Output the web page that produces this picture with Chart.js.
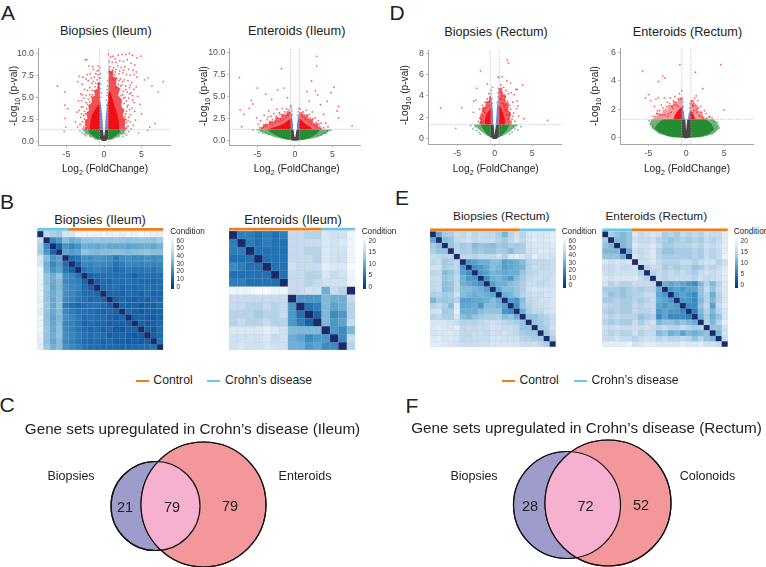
<!DOCTYPE html>
<html>
<head>
<meta charset="utf-8">
<title>Crohn's disease figure</title>
<script src="https://cdn.jsdelivr.net/npm/chart.js@4/dist/chart.umd.js"></script>
<style>
html, body { margin: 0; padding: 0; background: #fff; }
#page { position: relative; width: 766px; height: 567px; overflow: hidden; font-family: "Liberation Sans", Arial, sans-serif; color: #222; }
canvas { position: absolute; }
.txt { position: absolute; white-space: nowrap; transform: translate(-50%, -50%); line-height: 1; }
.txt sub { font-size: 70%; line-height: 0; }
.rot { transform: translate(-50%, -50%) rotate(-90deg); }
.swatch { position: absolute; height: 2.5px; }
</style>
</head>
<body>
<div id="page"></div>
<script>
// Volcano plots: thresholds
const foldLimit = 0.6;
const pLimit = 1.3;
const xTicks = [-5, 0, 5];

// A - Biopsies (Ileum): outlines of the solid and half dense parts of the cloud, then single points
const a1Gray = [[-0.55,1.3],[-0.15,1.3],[-0.03,0.6],[0.03,0.6],[0.15,1.3],[0.55,1.3],[0.55,0.3],[0.3,0.05],[0,-0.02],[-0.3,0.05],[-0.55,0.3]];
const a1GreenHaloL = [[-0.5,1.3],[-2.9,1.3],[-2.5,1],[-2.6,0.8],[-2,0.7],[-2,0.5],[-1.4,0.35],[-1.3,0.2],[-0.5,0.1]];
const a1GreenHaloR = [[0.5,1.3],[3,1.3],[2.6,1],[2.7,0.8],[2.1,0.7],[2.1,0.5],[1.4,0.35],[1.3,0.2],[0.5,0.1]];
const a1GreenL = [[-0.5,1.3],[-2.1,1.3],[-2,0.95],[-1.5,0.6],[-1,0.3],[-0.5,0.14]];
const a1GreenR = [[0.5,1.3],[2.2,1.3],[2.1,0.95],[1.6,0.6],[1,0.3],[0.5,0.14]];
const a1BlueL = [[-0.52,1.3],[-0.12,1.3],[-0.2,2.5],[-0.33,3.6],[-0.45,4.6],[-0.52,5]];
const a1BlueR = [[0.52,1.3],[0.12,1.3],[0.2,2.5],[0.33,3.6],[0.45,4.6],[0.52,5]];
const a1RedHaloL = [[-0.5,1.3],[-2.7,1.3],[-2.4,1.7],[-2.6,2.2],[-2.2,2.6],[-2.4,3.2],[-2,3.5],[-2.1,4.1],[-1.6,4.4],[-1.7,5],[-1.2,5.2],[-1.3,5.8],[-0.8,6],[-0.9,6.6],[-0.55,6.8]];
const a1RedHaloR = [[0.5,1.3],[3,1.3],[2.7,1.8],[2.9,2.4],[2.5,2.9],[2.7,3.5],[2.3,4],[2.4,4.7],[1.9,5.2],[2.1,6],[1.6,6.4],[1.7,7.2],[1.2,7.4],[1.2,8.1],[0.8,8],[0.65,8.6]];
const a1RedL = [[-0.5,1.3],[-1.9,1.3],[-1.8,2.2],[-1.6,3],[-1.2,3.6],[-0.8,4.1],[-0.5,4.2]];
const a1RedR = [[0.5,1.3],[2.1,1.3],[2,2.2],[1.7,3.2],[1.4,4],[1.1,5],[0.8,5.7],[0.55,5.4]];
const a1RedPoints = [[-6.2,6.3],[-5.2,5.6],[-5.2,4.1],[-4.8,3.7],[-5.2,2.6],[-5.1,1.6],[-3.3,7.4],[-3.5,6.8],[-2.5,9.3],[-2.3,9.3],[-2,8.6],[-1.5,8.5],[-1.4,8.2],[-0.8,8.6],[-0.9,8],[-1.8,7.7],[-2.4,7.1],[-2.9,6.5],[-2.1,6.9],[-1.3,7.3],[-0.9,7],[-1.6,6.6],[-2.6,5.9],[-3.1,5.4],[-2.2,5.8],[-1.9,5.3],[-2.7,4.9],[-3.4,4.6],[-2.4,4.4],[-3,3.9],[-3.6,3.3],[-2.6,3.4],[-3.1,2.7],[-2.6,2.5],[-3.2,1.9],[-2.7,1.6],[-2.4,1.5],[-2.9,2.2],[-1.2,6.2],[-0.7,6.6],[-1.6,5.8],[-0.8,7.6],
  [-2.8,1.4],[-2.5,1.8],[-2.7,2.9],[-2.4,2.4],[-2.5,3.1],[-2.3,3.7],[-2.2,4.2],[-2.8,3.9],[-2.1,4.8],[-1.9,4.5],[-1.7,5.1],[-2.4,5.2],[-1.5,5.3],[-1.3,5.7],[-1.9,6.1],[-1.1,6.6],[-1.4,6.8],[-0.8,6.1],[-0.65,7.2],[-1.7,7.2],[-2.2,7.6],[-1.1,7.7],[-0.7,8.1],[-2.8,7.3],[-3,4.6],[-3.3,3.5],[-3,3.1],[-3.8,2.2],[-3.5,1.6],[-2.9,5.3],
  [0.6,9.9],[0.9,9.6],[1.2,9.7],[1.5,9.4],[1.9,9.8],[2.4,9.9],[2.9,9.9],[3.4,10],[3.8,9.8],[4.4,9.5],[4.9,9.7],[0.7,9.1],[1.1,9],[1.6,9],[2.1,9.2],[2.6,9.1],[3.1,9.3],[3.6,8.9],[4.1,8.7],[0.8,8.5],[1.3,8.4],[1.8,8.6],[2.3,8.4],[2.8,8.5],[3.3,8.2],[3.9,8.1],[4.3,7.9],[0.6,7.9],[1,7.8],[1.5,7.9],[2,7.7],[2.5,7.8],[3,7.6],[3.5,7.5],[4,7.6],[4.4,7.3],[1.7,7.2],[2.2,7.1],[2.7,7],[3.2,6.9],[3.7,6.7],[1.2,7],[1.9,6.5],[2.4,6.4],[2.9,6.3],[3.4,6.1],[1.6,6.1],[2.1,5.9],[2.6,5.7],[3.1,5.6],[3.6,5.5],[4,5.9],[2.3,5.2],[2.8,5],[3.3,4.9],[3.8,4.7],[2.7,4.3],[3.2,4.1],[3.7,3.8],[4.1,3.4],[3,3.4],[3.5,3],[2.8,2.8],[3.2,2.3],[2.7,1.9],[3,1.5],[3.6,1.4],[2.6,3.6],[4.8,4.2],[5,3.1],[5.9,7.2],[5.4,7],[6.4,6.3],[7.2,5.6],[7.9,6.8],[6.8,2],[6.1,1.6],
  [3,2.1],[3.3,2.7],[2.9,3.1],[3.1,3.9],[2.6,4.9],[2.5,5.3],[2.9,5.9],[2.2,6.3],[2.5,6.8],[2,6.9],[1.4,7.6],[2.1,8],[1.2,8.1],[1.6,8.2],[2.6,8.1],[3.5,6.4],[3.8,5.2],[4.3,6.2],[4.5,5.1],[3.4,5.4],[4,4.4],[3.5,2.2],[4.2,2.4],[3.9,1.8],[3.2,1.7],[2.9,2.5],[3.4,3.6],[3,4.6]];
const a1BluePoints = [[-0.52,8.4],[-0.5,7.7],[-0.45,7.2],[-0.42,6.5],[-0.48,6],[-0.35,5.5],[-0.4,5],[0.48,6.9],[0.5,6.3],[0.42,5.9],[0.38,5.2],[0.3,4.7],[0.45,5.5],[0.35,4.1]];
const a1GreenPoints = [[-5.3,1.1],[-3.2,1.15],[-2.9,0.9],[-2.6,0.75],[-2.6,1.2],[-2.4,0.6],[2.6,1.1],[2.8,0.9],[3,0.7],[3.3,1.1],[2.5,0.55],[4.6,0.95],[5.8,1.2]];

// A - Enteroids (Ileum)
const a2Gray = [[-0.55,1.3],[-0.2,1.3],[-0.05,0.45],[0.05,0.45],[0.2,1.3],[0.55,1.3],[0.55,0.1],[0.25,0],[-0.25,0],[-0.55,0.1]];
const a2GreenHaloL = [[-0.5,1.3],[-5,1.3],[-4.4,1],[-3.7,0.75],[-2.6,0.4],[-1.5,0.17],[-0.5,0.06]];
const a2GreenHaloR = [[0.5,1.3],[4.8,1.3],[4.3,0.95],[3.5,0.6],[2.5,0.3],[1.5,0.14],[0.5,0.05]];
const a2GreenL = [[-0.5,1.3],[-3.7,1.3],[-3.2,0.95],[-2.5,0.6],[-1.7,0.32],[-1,0.15],[-0.5,0.09]];
const a2GreenR = [[0.5,1.3],[3.4,1.3],[3,0.85],[2.3,0.47],[1.5,0.22],[0.5,0.08]];
const a2BlueL = [[-0.55,1.3],[-0.15,1.3],[-0.25,1.9],[-0.4,2.8],[-0.55,3.3]];
const a2BlueR = [[0.55,1.3],[0.15,1.3],[0.25,1.9],[0.4,2.6],[0.55,3]];
const a2RedHaloL = [[-0.5,1.3],[-4.9,1.3],[-4.2,1.6],[-4.3,1.9],[-3.5,1.9],[-3.4,2.3],[-2.7,2.2],[-2.6,2.7],[-1.9,2.6],[-1.8,3.1],[-1.2,2.9],[-1.1,3.4],[-0.5,3.3]];
const a2RedHaloR = [[0.5,1.3],[3.7,1.3],[3.1,1.6],[3.1,2],[2.5,2],[2.4,2.5],[1.8,2.5],[1.7,3],[1.1,2.9],[1,3.3],[0.5,3.2]];
const a2RedL = [[-0.5,1.3],[-3.5,1.3],[-3,1.5],[-2.2,1.7],[-1.4,2],[-0.8,2.4],[-0.5,2.5]];
const a2RedR = [[0.5,1.3],[2.4,1.3],[2,1.6],[1.3,2],[0.8,2.4],[0.5,2.5]];
const a2RedPoints = [[-7.4,7.2],[-7.3,3.5],[-7.1,1.6],[-6.8,3],[-6.1,3.7],[-5.8,4.6],[-5.6,4.2],[-5,6],[-5.1,2.6],[-3.9,5.3],[-3.5,3.4],[-3.1,4.7],[-2.3,5.8],[-1.8,8.2],[-1.5,6],[-1,4.9],[-0.6,3.9],[2.9,9.6],[2.9,8.5],[2.2,6.8],[2.7,5.7],[3,5.2],[1.6,5.6],[1.9,4.5],[4.8,5.5],[5.2,6.1],[5.8,3.9],[5.8,2.6],[5.6,3.4],[7.6,1.7],[4.3,4.5],[3.8,3],[3.4,4.1],
  [-4.9,1.9],[-4.6,2.3],[-4.4,1.5],[-4.1,2.9],[-3.9,1.7],[-3.7,2.4],[-3.4,2.1],[-3.2,2.8],[-3,1.9],[-2.8,3.1],[-2.6,2.3],[-2.4,3.6],[-2.3,2.6],[-2.1,3.2],[-1.9,2.5],[-1.7,3.7],[-1.6,2.9],[-1.4,3.3],[-1.2,2.7],[-1.1,3.6],[-0.9,3],[-0.7,3.2],[0.7,3.6],[0.9,2.9],[1.1,3.3],[1.3,2.6],[1.5,3.5],[1.7,2.4],[1.9,3],[2.1,2.2],[2.3,3.3],[2.5,1.9],[2.7,2.6],[2.9,1.7],[3.1,2.3],[3.3,1.6],[3.5,2],[3.8,1.5],[4.1,2],[4.4,1.6],
  [-4.7,1.5],[-4.2,1.6],[-3.8,1.9],[-3.6,2.7],[-3.3,1.9],[-3,2.4],[-2.7,2.1],[-2.5,2.8],[-2.2,2.2],[-2,3],[-1.8,2.3],[-1.5,2.5],[-1.3,3],[-1,2.9],[-0.8,3.5],[1,2.7],[1.2,3],[1.4,2.4],[1.6,2.9],[1.8,2.1],[2,2.6],[2.2,1.9],[2.4,2.5],[2.6,1.7],[2.8,2.1],[3,1.5],[3.2,1.9],[3.4,1.4]];
const a2BluePoints = [[-0.52,4],[-0.48,3.7],[-0.42,3.4],[-0.35,3],[0.5,3.7],[0.45,3.3],[0.38,2.9]];
const a2GreenPoints = [[-5,1.2],[-4.8,0.95],[-4.5,1.1],[-4.3,0.9],[-3.9,0.85],[-3.5,0.75],[-5.6,1.25],[4.3,1.1],[4.1,0.85],[3.8,0.9],[3.5,0.65],[4.8,1.2],[3.1,0.55]];

// D - Biopsies (Rectum)
const d1Gray = [[-0.55,1.3],[-0.15,1.3],[-0.03,0.3],[0.03,0.3],[0.15,1.3],[0.55,1.3],[0.55,0.15],[0.25,-0.05],[-0.25,-0.05],[-0.55,0.15]];
const d1GreenHaloL = [[-0.5,1.3],[-2.8,1.3],[-2.3,0.95],[-1.7,0.6],[-1.1,0.3],[-0.5,0.1]];
const d1GreenHaloR = [[0.5,1.3],[3,1.3],[2.5,0.95],[1.9,0.6],[1.2,0.3],[0.5,0.1]];
const d1GreenL = [[-0.5,1.3],[-1.9,1.3],[-1.5,0.8],[-1.1,0.42],[-0.8,0.22],[-0.5,0.12]];
const d1GreenR = [[0.5,1.3],[2,1.3],[1.6,0.8],[1.1,0.42],[0.8,0.22],[0.5,0.12]];
const d1BlueL = [[-0.5,1.3],[-0.12,1.3],[-0.2,2],[-0.3,3],[-0.5,4]];
const d1BlueR = [[0.5,1.3],[0.12,1.3],[0.2,2],[0.3,3],[0.5,4]];
const d1RedHaloL = [[-0.5,1.3],[-2.1,1.3],[-1.9,1.7],[-2,2.1],[-1.6,2.4],[-1.7,2.9],[-1.2,3],[-1.2,3.5],[-0.8,3.5],[-0.7,4],[-0.5,4]];
const d1RedHaloR = [[0.5,1.3],[2.3,1.3],[2,1.8],[2.2,2.3],[1.8,2.7],[1.9,3.3],[1.4,3.5],[1.5,4.1],[1,4.2],[1,4.8],[0.5,4.7]];
const d1RedL = [[-0.5,1.3],[-1.2,1.3],[-1.3,1.8],[-1.1,2.3],[-0.7,2.7],[-0.5,2.9]];
const d1RedR = [[0.5,1.3],[1.3,1.3],[1.35,1.8],[1.1,2.4],[0.8,2.9],[0.5,3.1]];
const d1RedPoints = [[-7.2,2.85],[-4.4,2.9],[-2.4,4.7],[-1.9,6.35],[-1,5.1],[1.65,7.35],[1.8,7.1],[1,5.8],[3.7,5],[3.9,1.85],[7.05,1.7],[3,4.6],[2.8,4.6],[2.1,5.2],[1.6,5.4],[0.8,5],[0.6,5.7],[3,3.5],[3.1,3.05],[2.1,2.75],[-2.5,3.6],[-2.8,3.5],[-2.85,2.45],[-2,2.75],
  [-2.2,1.6],[-2,1.9],[-1.8,2.3],[-1.7,1.5],[-1.6,3.1],[-1.5,2.6],[-1.3,3.4],[-1.2,2.9],[-1,3.7],[-0.8,4.2],[-0.7,3.5],[0.7,4.4],[0.9,3.7],[1,4.3],[1.1,3.3],[1.2,4.8],[1.3,3],[1.4,3.9],[1.5,4.5],[1.6,2.6],[1.7,3.5],[1.8,4.2],[1.9,2.2],[2,3.1],[2.2,4.3],[2.3,1.8],[2.4,3.4],[2.5,2.4],[2.6,4.1],[2.7,1.6],[2.9,2.8],[3.2,2.1],
  [-1.9,1.5],[-1.8,1.8],[-1.6,2.1],[-1.5,1.6],[-1.4,2.8],[-1.3,2.4],[-1.1,3.1],[-0.9,3.4],[-0.7,3.1],[-0.6,3.8],[0.7,3.7],[0.9,3.3],[1,4],[1.2,3.1],[1.3,3.6],[1.4,2.7],[1.5,3.2],[1.6,2.2],[1.7,2.9],[1.8,1.8],[2,2.4],[2.2,1.6],[2.4,2.1]];
const d1BluePoints = [[-0.5,4.5],[-0.45,4.2],[-0.4,3.7],[-0.35,3.3],[-0.3,4.8],[0.42,5.8],[0.5,4.7],[0.4,4.3],[0.45,3.9],[0.35,3.4]];
const d1GreenPoints = [[-5.2,0.95],[-3.2,1.2],[-2.9,0.9],[-2.6,1.1],[-2.4,0.75],[-2.1,0.55],[-1.9,0.4],[2.5,1.1],[2.7,0.9],[2.9,1.2],[3.1,0.8],[2.3,0.6],[2,0.4],[3.5,1.1]];

// D - Enteroids (Rectum)
const d2Gray = [[-0.6,1.3],[-0.12,1.3],[-0.03,0.5],[0.03,0.5],[0.12,1.3],[0.6,1.3],[0.6,0.05],[0.2,-0.03],[-0.2,-0.03],[-0.6,0.05]];
const d2GreenHaloL = [[-0.5,1.3],[-4.6,1.3],[-4.8,1],[-4.5,0.65],[-3.6,0.28],[-2,0.05],[-0.5,0.02]];
const d2GreenHaloR = [[0.5,1.3],[3.6,1.3],[4.1,1],[4.3,0.65],[3.5,0.25],[2,0.05],[0.5,0.02]];
const d2GreenL = [[-0.5,1.3],[-3,1.3],[-3.8,1],[-4.2,0.65],[-3.5,0.35],[-2.5,0.15],[-1.5,0.05],[-0.5,0.02]];
const d2GreenR = [[0.5,1.3],[2.5,1.3],[3.3,1],[3.7,0.6],[3,0.27],[2,0.1],[1,0.03],[0.5,0.02]];
const d2BlueL = [[-0.55,1.3],[-0.2,1.3],[-0.32,1.8],[-0.55,2.4]];
const d2BlueR = [[0.55,1.3],[0.2,1.3],[0.32,1.7],[0.55,2.1]];
const d2RedHaloL = [[-0.5,1.3],[-4.5,1.3],[-3.9,1.5],[-3.9,1.8],[-3.2,1.7],[-3.1,2],[-2.5,1.9],[-2.4,2.3],[-1.8,2.3],[-1.7,2.6],[-1.2,2.5],[-1.1,2.8],[-0.5,2.9]];
const d2RedHaloR = [[0.5,1.3],[2.8,1.3],[2.2,1.5],[2.1,1.8],[1.6,1.9],[1.5,2.3],[1.1,2.3],[1,2.7],[0.5,2.6]];
const d2RedL = [[-0.5,1.3],[-1.7,1.3],[-1.5,1.6],[-1.2,1.85],[-0.8,2.1],[-0.5,2.2]];
const d2RedR = [[0.5,1.3],[1.2,1.3],[1,1.55],[0.8,1.8],[0.5,1.9]];
const d2RedPoints = [[-5.75,4.68],[-3.1,4.35],[-2.85,4.2],[-3.65,3.95],[-0.85,5.13],[1.2,4.6],[4.55,5.13],[2.17,3.45],[5,1.96],[-4.96,3.03],[-5.4,2.8],[-4,2.7],
  [-4.7,2.6],[-4.4,1.5],[-4.2,2.2],[-3.9,1.7],[-3.7,2.8],[-3.5,1.9],[-3.3,2.3],[-3.1,1.6],[-2.9,2.8],[-2.7,2],[-2.5,2.5],[-2.3,1.7],[-2.1,2.8],[-1.9,2.2],[-1.7,2.6],[-1.5,2.9],[-1.3,2.3],[-1.1,2.7],[-0.9,3.1],[-0.7,2.7],[-0.6,3.3],[0.7,2.6],[0.9,2.2],[1.1,2.8],[1.3,2],[1.5,2.6],[1.7,1.6],[1.9,2.2],[2.1,1.5],[2.4,1.9],[2.7,1.4],[3,1.45],[1.3,2.95],[1,2.4],
  [-4.1,1.5],[-3.8,1.9],[-3.4,1.6],[-3.1,2.1],[-2.8,1.6],[-2.6,2.2],[-2.4,1.5],[-2.2,2.4],[-2,1.8],[-1.8,2.1],[-1.6,2.3],[-1.4,2.5],[-1.1,2.2],[0.8,2.3],[1,1.9],[1.2,2.3],[1.4,1.8],[1.6,2.1],[1.8,1.5],[2,1.8],[2.2,1.4],[2.6,1.7],[3.1,1.5],[3.4,1.4]];
const d2BluePoints = [[-0.5,2.75],[-0.45,2.5],[-0.4,2.2],[0.48,2.4],[0.42,2.1]];
const d2GreenPoints = [[-4.9,1.2],[-4.75,0.95],[-4.4,0.8],[-3.7,0.7],[-3.2,0.45],[4.05,1.1],[3.7,1.15],[4.2,0.85],[4.35,0.7],[3.8,0.45]];

// Sample distance matrices, upper triangles read row by row
const b1Upper = [
  [0,44,40,38,50,50,59,57,57,56,57,55,56,54,57,56,58,56,54,54],
  [0,20,24,34,30,32,36,36,37,36,36,37,36,35,36,37,36,35,38],
  [0,12,23,20,23,30,29,28,30,28,28,29,27,28,29,30,28,31],
  [0,27,25,27,36,34,33,34,34,35,34,33,34,35,36,34,34],
  [0,14,16,22,21,23,22,21,17,21,22,20,21,22,21,22],
  [0,12,20,19,21,20,19,15,18,20,19,19,20,19,20],
  [0,16,18,19,17,16,13,15,17,16,16,17,16,18],
  [0,12,14,14,15,14,15,14,12,14,15,14,15],
  [0,11,14,13,15,14,15,14,13,14,13,14],
  [0,13,14,15,13,14,13,14,15,14,14],
  [0,12,13,12,14,13,12,14,12,13],
  [0,11,13,12,11,13,11,13,13],
  [0,12,11,12,10,12,11,13],
  [0,13,11,10,12,11,12],
  [0,11,12,11,10,12],
  [0,12,10,11,13],
  [0,11,10,14],
  [0,11,14],
  [0,15],
  [0]
];
const b2Matrix = [
  [0,6,6,5,6,5,6,15,15,14,14,17,16,16,19],
  [6,0,6,5,6,5,5,15,15,15,15,17,16,17,19],
  [6,6,0,5,5,5,5,15,15,14,14,17,16,16,19],
  [5,5,5,0,5,5,5,15,15,15,14,17,16,16,19],
  [7,6,5,5,0,5,5,16,15,15,15,18,17,17,20],
  [5,5,5,5,5,0,5,15,15,14,14,17,15,16,19],
  [6,6,5,5,5,5,0,15,15,14,15,16,16,16,19],
  [19,19,19,20,20,19,19,15,15,16,16,10,15,14,0],
  [15,15,15,15,15,15,15,0,8,8,8,11,10,10,15],
  [15,15,14,14,15,14,15,8,0,5,6,11,9,10,14],
  [14,14,14,13,14,14,15,8,5,0,4,11,7,8,14],
  [14,15,14,14,15,14,14,8,6,4,0,11,8,9,15],
  [17,17,17,17,18,17,16,11,11,11,11,0,8,7,11],
  [16,16,16,16,17,15,16,10,9,7,8,8,0,7,15],
  [16,17,16,16,17,16,16,10,10,8,9,7,7,0,14]
];
const e1Upper = [
  [0,28,38,40,46,44,48,43,46,44,44,40,32,42,48,42,50,52,50,52,54],
  [0,34,36,44,46,48,44,46,45,46,42,38,44,50,44,50,53,50,53,54],
  [0,36,42,38,40,34,36,35,34,38,36,40,38,40,50,51,50,50,52],
  [0,43,40,41,36,38,36,36,40,38,34,40,40,48,50,52,52,50],
  [0,44,44,42,44,44,44,48,42,52,54,50,46,54,50,50,48],
  [0,24,26,30,30,34,34,26,28,30,34,42,44,44,44,46],
  [0,22,24,28,34,32,26,28,30,32,42,46,44,44,46],
  [0,24,26,32,30,28,30,30,36,42,44,46,46,46],
  [0,22,30,32,28,24,34,38,44,46,46,46,48],
  [0,26,30,30,34,36,40,46,46,44,46,48],
  [0,28,34,34,36,40,48,50,48,50,50],
  [0,30,32,36,42,46,48,46,50,50],
  [0,26,24,34,44,46,48,48,50],
  [0,22,36,42,46,46,48,50],
  [0,30,40,44,44,48,50],
  [0,36,36,40,42,46],
  [0,36,38,42,46],
  [0,38,40,48],
  [0,38,44],
  [0,40],
  [0]
];
const e2Upper = [
  [0,13,12,11,12,17,15,16,17,16,13,14,13,15,14,15,14,16,15,15,18],
  [0,11,11,12,16,15,15,16,14,13,12,13,14,13,14,13,15,14,15,18],
  [0,11,12,17,16,16,17,15,13,13,14,14,14,15,14,16,15,16,18],
  [0,10,16,15,16,17,14,12,12,13,13,13,14,13,15,14,15,18],
  [0,17,15,16,17,14,13,13,13,13,13,14,13,15,14,15,19],
  [0,16,16,17,15,14,14,14,15,15,14,15,16,16,14,16],
  [0,14,15,15,13,14,13,14,14,12,13,15,14,15,17],
  [0,14,15,14,15,14,15,14,13,15,16,15,16,18],
  [0,15,14,15,15,15,15,14,16,15,15,16,18],
  [0,10,9,10,9,8,7,11,14,11,14,17],
  [0,8,9,8,9,9,12,15,12,15,17],
  [0,8,9,8,7,12,14,10,14,17],
  [0,8,8,7,11,14,11,14,17],
  [0,7,7,12,15,9,15,18],
  [0,6,11,14,11,14,17],
  [0,10,13,10,12,17],
  [0,14,11,14,18],
  [0,12,12,16],
  [0,11,16],
  [0,15],
  [0]
];

// Condition strip on top of each heatmap: [group, number of samples]
const b1Groups = [['crohn',5],['control',15]];
const b2Groups = [['control',11],['crohn',4]];
const e1Groups = [['control',15],['crohn',6]];
const e2Groups = [['crohn',5],['control',16]];
const groupColors = { control: '#ee7d1c', crohn: '#6cc6ec' };

// Colour bar ticks
const ticks60 = [0, 10, 20, 30, 40, 50, 60];
const ticks20 = [0, 5, 10, 15, 20];

// Venn diagrams: circle centre and radius in canvas pixels, counts
const ileumBiopsies = { x: 75.5, y: 106, r: 44.5 };
const ileumEnteroids = { x: 123.5, y: 104.5, r: 62.5 };
const rectumBiopsies = { x: 87, y: 105, r: 53.5 };
const rectumColonoids = { x: 128, y: 103, r: 63 };
const vennIleumCounts = ['21', '79', '79'];
const vennRectumCounts = ['28', '72', '52'];

const blues = [[27,42,107],[8,81,156],[33,113,181],[66,146,198],[107,174,214],[158,202,225],[198,219,239],[222,235,247],[247,251,255]];

function heatRgb(value, max) {
    const t = Math.min(value / max, 1) * (blues.length - 1);
    const i = Math.min(Math.floor(t), blues.length - 2);
    const f = t - i;
    return blues[i].map((v, k) => Math.round(v + (blues[i + 1][k] - v) * f));
}

function heatColor(value, max) {
    return 'rgb(' + heatRgb(value, max).join(',') + ')';
}

// Cell edge: the cell colour pulled towards light grey
function heatEdge(value, max) {
    const c = heatRgb(value, max).map(v => Math.round(v * 0.62 + 190 * 0.38));
    return 'rgb(' + c.join(',') + ')';
}

// Fill in the lower half of a symmetric matrix
function fullMatrix(upper) {
    return upper.map((row, r) => upper.map((_, c) => r <= c ? upper[r][c - r] : upper[c][r - c]));
}

const page = document.getElementById('page');

function addCanvas(left, top, width, height) {
    const canvas = document.createElement('canvas');
    canvas.width = width;
    canvas.height = height;
    canvas.style.left = left + 'px';
    canvas.style.top = top + 'px';
    canvas.style.width = width + 'px';
    canvas.style.height = height + 'px';
    page.appendChild(canvas);
    return canvas;
}

function addText(html, x, y, size, extraClass, color) {
    const span = document.createElement('span');
    span.className = 'txt' + (extraClass ? ' ' + extraClass : '');
    span.innerHTML = html;
    span.style.left = x + 'px';
    span.style.top = y + 'px';
    span.style.fontSize = size + 'px';
    if (color) span.style.color = color;
    page.appendChild(span);
}

function addSwatch(x, y, width, color) {
    const div = document.createElement('div');
    div.className = 'swatch';
    div.style.left = x + 'px';
    div.style.top = y + 'px';
    div.style.width = width + 'px';
    div.style.background = color;
    page.appendChild(div);
}

function shapeSet(data, color) {
    return { data: data, showLine: true, fill: 'shape', borderWidth: 0, pointRadius: 0, pointBorderWidth: 0, backgroundColor: color, borderColor: color };
}

function pointSet(data, color) {
    return { data: data, showLine: false, pointRadius: 0.9, pointBorderWidth: 0, pointBackgroundColor: color };
}

function lineSet(data) {
    return { data: data, showLine: true, borderColor: '#a8a8a8', borderWidth: 0.6, borderDash: [1.5, 1.2], pointRadius: 0, pointBorderWidth: 0, fill: false };
}

// One volcano plot; box is the plot area in page pixels
function volcano(box, xRange, yRange, yTicks, yDecimals, s) {
    const canvasLeft = Math.floor(box.left) - 30;
    const canvasTop = Math.floor(box.top) - 1;
    const canvasRight = Math.ceil(box.right) + 2;
    const canvasBottom = Math.ceil(box.bottom) + 20;
    const axisW = box.left - canvasLeft;
    const axisH = canvasBottom - box.bottom;
    const canvas = addCanvas(canvasLeft, canvasTop, canvasRight - canvasLeft, canvasBottom - canvasTop);
    const green = 'rgba(34,139,50,', red = 'rgba(240,12,18,', blue = 'rgba(105,128,205,';
    const datasets = [
        shapeSet(s.greenHalo[0], green + '0.65)'), shapeSet(s.greenHalo[1], green + '0.65)'),
        shapeSet(s.green[0], green + '0.95)'), shapeSet(s.green[1], green + '0.95)'),
        pointSet(s.greenPoints, green + '0.6)'),
        shapeSet(s.redHalo[0], red + s.haloAlpha + ')'), shapeSet(s.redHalo[1], red + s.haloAlpha + ')'),
        shapeSet(s.red[0], red + '0.95)'), shapeSet(s.red[1], red + '0.95)'),
        pointSet(s.redPoints, red + '0.62)'),
        shapeSet(s.blue[0], blue + '0.92)'), shapeSet(s.blue[1], blue + '0.92)'),
        pointSet(s.bluePoints, blue + '0.75)'),
        shapeSet(s.gray, '#4a4747'),
        lineSet([[-foldLimit, yRange[0]], [-foldLimit, yRange[1]]]),
        lineSet([[foldLimit, yRange[0]], [foldLimit, yRange[1]]]),
        lineSet([[xRange[0], pLimit], [xRange[1], pLimit]])
    ];
    // first dataset is drawn on top in Chart.js, so reverse them
    datasets.reverse();
    new Chart(canvas, {
        type: 'scatter',
        data: { datasets: datasets },
        options: {
            responsive: false,
            animation: false,
            events: [],
            layout: { padding: { left: 0, right: canvasRight - box.right, top: box.top - canvasTop, bottom: 0 } },
            plugins: { legend: { display: false }, tooltip: { enabled: false } },
            scales: {
                x: {
                    type: 'linear', min: xRange[0], max: xRange[1],
                    afterBuildTicks: scale => { scale.ticks = xTicks.map(v => ({ value: v })); },
                    afterFit: scale => { scale.height = axisH; scale.paddingLeft = 0; scale.paddingRight = 0; },
                    grid: { drawOnChartArea: false, tickLength: 2, color: '#888', tickWidth: 0.6 },
                    border: { color: '#a6a6a6', width: 1 },
                    ticks: { color: '#4d4d4d', font: { size: 8.8, family: 'Liberation Sans' }, padding: 2, maxRotation: 0, autoSkip: false }
                },
                y: {
                    type: 'linear', min: yRange[0], max: yRange[1],
                    afterBuildTicks: scale => { scale.ticks = yTicks.map(v => ({ value: v })); },
                    afterFit: scale => { scale.width = axisW; scale.paddingTop = 0; scale.paddingBottom = 0; },
                    grid: { drawOnChartArea: false, tickLength: 2, color: '#888', tickWidth: 0.6 },
                    border: { color: '#a6a6a6', width: 1 },
                    ticks: { color: '#4d4d4d', font: { size: 8.8, family: 'Liberation Sans' }, padding: 2, autoSkip: false,
                        callback: v => v.toFixed(yDecimals) }
                }
            }
        }
    });
}

// One heatmap as floating bars, a row per dataset
function heatmap(box, matrix, groups, max) {
    const cellH = (box.bottom - box.top) / matrix.length;
    const stripTop = -3.3 / cellH;
    const canvasLeft = Math.floor(box.left);
    const canvasTop = Math.floor(box.top - 3.3);
    const canvasRight = Math.ceil(box.right);
    const canvasBottom = Math.ceil(box.bottom);
    const canvas = addCanvas(canvasLeft, canvasTop, canvasRight - canvasLeft, canvasBottom - canvasTop);
    const labels = matrix[0].map((_, c) => c);
    const strip = [];
    groups.forEach(g => { for (let i = 0; i < g[1]; i++) strip.push(groupColors[g[0]]); });
    const datasets = matrix.map((row, r) => ({
        data: row.map(() => [r, r + 1]),
        backgroundColor: row.map(v => heatColor(v, max)),
        borderColor: row.map(v => heatEdge(v, max)),
        borderWidth: 0.5
    }));
    datasets.push({ data: labels.map(() => [stripTop, stripTop + 2.4 / cellH]), backgroundColor: strip, borderWidth: 0 });
    new Chart(canvas, {
        type: 'bar',
        data: { labels: labels, datasets: datasets },
        options: {
            responsive: false,
            animation: false,
            events: [],
            grouped: false,
            barPercentage: 1,
            categoryPercentage: 1,
            borderSkipped: false,
            layout: { padding: { left: box.left - canvasLeft, right: canvasRight - box.right, top: box.top - 3.3 - canvasTop, bottom: canvasBottom - box.bottom } },
            plugins: { legend: { display: false }, tooltip: { enabled: false } },
            scales: {
                x: { type: 'category', display: false, offset: true },
                y: { type: 'linear', display: false, reverse: true, min: stripTop, max: matrix.length }
            }
        }
    });
}

// Colour bar: one tall bar with a gradient, ticks from the y axis
function colorbar(left, top, height, yRange, ticks) {
    const barW = 3;
    const canvas = addCanvas(left, top, 22, height);
    new Chart(canvas, {
        type: 'bar',
        data: {
            labels: ['level'],
            datasets: [{
                data: [yRange],
                barPercentage: 1,
                categoryPercentage: 1,
                borderWidth: 0,
                backgroundColor: ctx => {
                    const area = ctx.chart.chartArea;
                    if (!area) return '#08519c';
                    const grad = ctx.chart.ctx.createLinearGradient(0, area.bottom, 0, area.top);
                    blues.forEach((c, i) => grad.addColorStop(i / (blues.length - 1), 'rgb(' + c.join(',') + ')'));
                    return grad;
                }
            }]
        },
        options: {
            responsive: false,
            animation: false,
            events: [],
            layout: { padding: 0 },
            plugins: { legend: { display: false }, tooltip: { enabled: false } },
            scales: {
                x: { display: false, afterFit: scale => { scale.paddingLeft = 0; scale.paddingRight = 0; } },
                y: {
                    position: 'right', min: yRange[0], max: yRange[1],
                    afterBuildTicks: scale => { scale.ticks = ticks.map(v => ({ value: v })); },
                    afterFit: scale => { scale.width = 22 - barW; scale.paddingTop = 0; scale.paddingBottom = 0; },
                    grid: { display: false, drawTicks: false },
                    border: { display: false },
                    ticks: { color: '#333', font: { size: 6.6, family: 'Liberation Sans' }, padding: 2.5, autoSkip: false }
                }
            }
        }
    });
}

// Keeps the overlap dataset inside the other circle
const vennClip = {
    id: 'vennClip',
    beforeDatasetDraw(chart, args) {
        if (!chart.data.datasets[args.index].clipToSecond) return;
        const el = chart.getDatasetMeta(1).data[0];
        chart.ctx.save();
        chart.ctx.beginPath();
        chart.ctx.arc(el.x, el.y, el.options.radius, 0, Math.PI * 2);
        chart.ctx.clip();
    },
    afterDatasetDraw(chart, args) {
        if (chart.data.datasets[args.index].clipToSecond) chart.ctx.restore();
    }
};
Chart.register(vennClip);

function venn(left, top, a, b) {
    const canvas = addCanvas(left, top, 200, 200);
    const edge = { borderColor: '#141414', borderWidth: 1.2 };
    const chart = new Chart(canvas, {
        type: 'bubble',
        data: {
            datasets: [
                Object.assign({ data: [a], backgroundColor: '#9d9ccb', order: 5 }, edge),
                Object.assign({ data: [b], backgroundColor: '#f4979b', order: 4 }, edge),
                { data: [a], backgroundColor: '#f6b1d0', borderWidth: 0, order: 3, clipToSecond: true },
                Object.assign({ data: [a], backgroundColor: 'transparent', order: 2 }, edge),
                Object.assign({ data: [b], backgroundColor: 'transparent', order: 1 }, edge)
            ]
        },
        options: {
            responsive: false,
            animation: false,
            events: [],
            clip: false,
            layout: { padding: 0 },
            plugins: { legend: { display: false }, tooltip: { enabled: false } },
            scales: {
                x: { type: 'linear', display: false },
                y: { type: 'linear', display: false, reverse: true }
            }
        }
    });
    // bubble charts inset the plot by the largest radius, so line the scales up with the canvas
    const area = chart.chartArea;
    chart.options.scales.x.min = area.left;
    chart.options.scales.x.max = area.right;
    chart.options.scales.y.min = area.top;
    chart.options.scales.y.max = area.bottom;
    chart.update();
}

// Volcano plots
volcano({ left: 38, top: 45, right: 172, bottom: 145.5 }, [-8.8, 8.8], [-0.5, 10.63], [0, 2.5, 5, 7.5, 10], 1, {
    haloAlpha: 0.72, gray: a1Gray, greenHalo: [a1GreenHaloL, a1GreenHaloR], green: [a1GreenL, a1GreenR], blue: [a1BlueL, a1BlueR],
    redHalo: [a1RedHaloL, a1RedHaloR], red: [a1RedL, a1RedR], redPoints: a1RedPoints, bluePoints: a1BluePoints, greenPoints: a1GreenPoints });
volcano({ left: 229.3, top: 45, right: 362, bottom: 145.5 }, [-8.74, 8.65], [-0.53, 10.55], [0, 2.5, 5, 7.5, 10], 1, {
    haloAlpha: 0.6, gray: a2Gray, greenHalo: [a2GreenHaloL, a2GreenHaloR], green: [a2GreenL, a2GreenR], blue: [a2BlueL, a2BlueR],
    redHalo: [a2RedHaloL, a2RedHaloR], red: [a2RedL, a2RedR], redPoints: a2RedPoints, bluePoints: a2BluePoints, greenPoints: a2GreenPoints });
volcano({ left: 428, top: 47.7, right: 562.7, bottom: 144 }, [-8.9, 8.83], [-0.52, 8.3], [0, 2, 4, 6, 8], 0, {
    haloAlpha: 0.65, gray: d1Gray, greenHalo: [d1GreenHaloL, d1GreenHaloR], green: [d1GreenL, d1GreenR], blue: [d1BlueL, d1BlueR],
    redHalo: [d1RedHaloL, d1RedHaloR], red: [d1RedL, d1RedR], redPoints: d1RedPoints, bluePoints: d1BluePoints, greenPoints: d1GreenPoints });
volcano({ left: 620, top: 45.7, right: 755, bottom: 144 }, [-8.74, 8.79], [-0.43, 6.3], [0, 2, 4, 6], 0, {
    haloAlpha: 0.42, gray: d2Gray, greenHalo: [d2GreenHaloL, d2GreenHaloR], green: [d2GreenL, d2GreenR], blue: [d2BlueL, d2BlueR],
    redHalo: [d2RedHaloL, d2RedHaloR], red: [d2RedL, d2RedR], redPoints: d2RedPoints, bluePoints: d2BluePoints, greenPoints: d2GreenPoints });

// Heatmaps and colour bars
heatmap({ left: 37.3, top: 231.3, right: 163.3, bottom: 350 }, fullMatrix(b1Upper), b1Groups, 60);
heatmap({ left: 229, top: 231, right: 355.3, bottom: 350 }, b2Matrix, b2Groups, 20);
heatmap({ left: 430, top: 231.7, right: 555.7, bottom: 346.7 }, fullMatrix(e1Upper), e1Groups, 60);
heatmap({ left: 602.3, top: 231.7, right: 727.7, bottom: 346.7 }, fullMatrix(e2Upper), e2Groups, 20);
colorbar(171, 238, 51, [-3, 63.5], ticks60);
colorbar(363, 238, 51, [-1, 21.2], ticks20);
colorbar(563, 238, 50, [-3.6, 63.6], ticks60);
colorbar(735, 238, 50, [-1.2, 21.2], ticks20);

// Venn diagrams
venn(80, 400, ileumBiopsies, ileumEnteroids);
venn(480, 400, rectumBiopsies, rectumColonoids);

// Panel letters
addText('A', 8, 12, 21);
addText('D', 397, 12, 21);
addText('B', 7, 200.7, 21);
addText('E', 402, 197, 21);
addText('C', 7, 404, 21);
addText('F', 412, 405, 21);

// Panel titles
addText('Biopsies (Ileum)', 105.8, 31, 12.8);
addText('Enteroids (Ileum)', 296.7, 31, 12.8);
addText('Biopsies (Rectum)', 496, 31.5, 12.7);
addText('Enteroids (Rectum)', 687.5, 31.5, 12.7);
addText('Biopsies (Ileum)', 100, 219.7, 12.8);
addText('Enteroids (Ileum)', 293, 219.7, 12.8);
addText('Biopsies (Rectum)', 501.3, 216.7, 11.8);
addText('Enteroids (Rectum)', 656.3, 216.7, 11.8);

// Volcano axis titles
const xTitle = 'Log<sub>2</sub> (FoldChange)';
const yTitle = '-Log<sub>10</sub> (p-val)';
addText(xTitle, 105, 169, 10.2);
addText(xTitle, 296.7, 169, 10.2);
addText(xTitle, 495.7, 169, 10.2);
addText(xTitle, 687, 169, 10.2);
addText(yTitle, 13.5, 96, 10.2, 'rot');
addText(yTitle, 204, 96, 10.2, 'rot');
addText(yTitle, 405, 95, 10.2, 'rot');
addText(yTitle, 595, 96, 10.2, 'rot');

// Colour bar titles
addText('Condition', 187.5, 232.3, 8.2);
addText('Condition', 379, 232.3, 8.2);
addText('Condition', 579, 232.3, 8.2);
addText('Condition', 751, 232.3, 8.2);

// Legends
addSwatch(136, 379.6, 12.7, groupColors.control);
addText('Control', 173, 379.5, 12.2);
addSwatch(207.3, 379.6, 12.7, groupColors.crohn);
addText('Crohn’s disease', 268.5, 379.5, 12.2);
addSwatch(502.3, 379.6, 12.7, groupColors.control);
addText('Control', 539.2, 379.5, 12.2);
addSwatch(574, 379.6, 12.7, groupColors.crohn);
addText('Crohn’s disease', 635, 379.5, 12.2);

// Venn text
addText('Gene sets upregulated in Crohn’s disease (Ileum)', 192.5, 429, 15.25);
addText('Gene sets upregulated in Crohn’s disease (Rectum)', 586.5, 428, 15.25);
addText('Biopsies', 71, 476, 12.5);
addText('Enteroids', 305, 476, 12.5);
addText('Biopsies', 474, 475.7, 12.5);
addText('Colonoids', 707.5, 475.7, 12.5);
addText(vennIleumCounts[0], 125, 506.7, 14.5);
addText(vennIleumCounts[1], 172, 506.7, 14.5);
addText(vennIleumCounts[2], 230, 506, 14.5);
addText(vennRectumCounts[0], 530, 506, 14.5);
addText(vennRectumCounts[1], 585.6, 506, 14.5);
addText(vennRectumCounts[2], 641, 505, 14.5);
</script>
</body>
</html>
